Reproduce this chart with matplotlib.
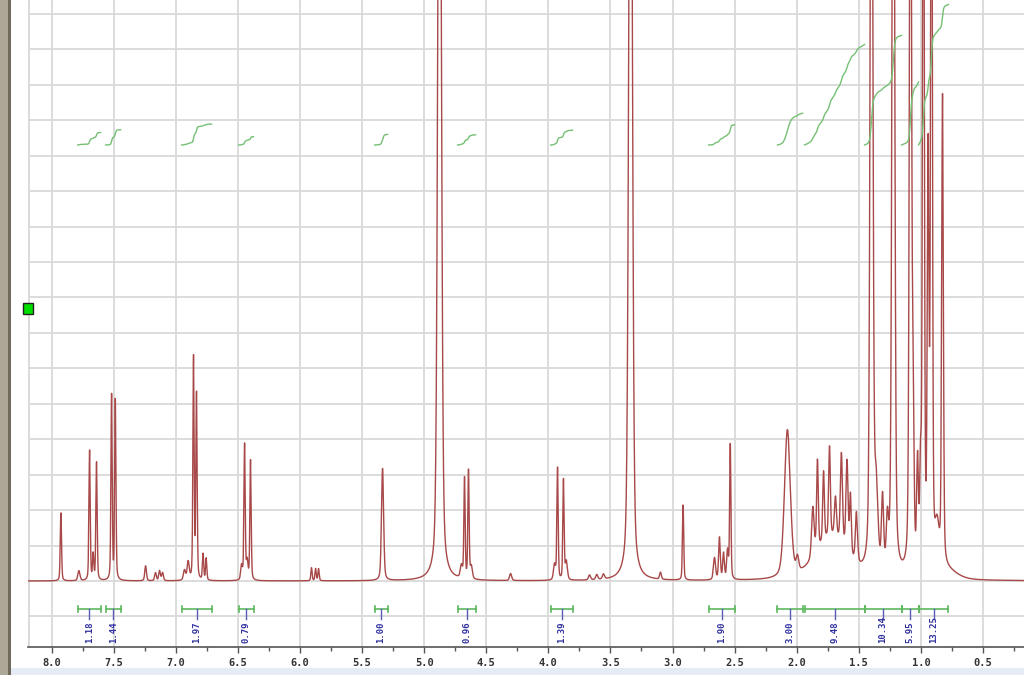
import numpy as np
import matplotlib.pyplot as plt
from matplotlib.patches import Rectangle

# peaks: shift (ppm), height (px above baseline), half width (ppm)
peak_ppm = [7.925, 7.78, 7.694, 7.665, 7.638, 7.517, 7.487, 7.243, 7.163, 7.13, 7.106,
            6.93, 6.90, 6.857, 6.833, 6.78, 6.755, 6.47, 6.446, 6.425, 6.398,
            5.907, 5.874, 5.85, 5.335, 4.876, 4.70, 4.675, 4.643, 4.62, 4.304,
            3.95, 3.926, 3.878, 3.855, 3.668, 3.61, 3.556, 3.338, 3.097, 2.915,
            2.662, 2.622, 2.589, 2.557, 2.535, 2.075, 1.994,
            1.87, 1.833, 1.784, 1.736, 1.688, 1.64, 1.595, 1.567, 1.519, 1.72,
            1.398, 1.36, 1.309, 1.27, 1.222, 1.084, 1.062, 1.027, 1.003,
            0.98, 0.942, 0.915, 0.87, 0.826, 0.80]
peak_height = [68, 10, 130, 25, 118, 185, 180, 15, 8, 10, 8,
               10, 18, 222, 185, 26, 22, 14, 136, 18, 120,
               13, 12, 12, 112, 1000, 12, 100, 108, 12, 7,
               15, 112, 100, 18, 5, 5, 5, 1000, 7, 75,
               22, 42, 26, 28, 135, 148, 14,
               50, 90, 70, 90, 40, 90, 90, 60, 50, 42,
               1000, 75, 70, 45, 1000, 900, 140, 100, 90,
               900, 400, 900, 40, 470, 9]
peak_hw = [0.006, 0.01, 0.006, 0.006, 0.006, 0.006, 0.006, 0.008, 0.008, 0.008, 0.008,
           0.01, 0.01, 0.006, 0.006, 0.006, 0.006, 0.008, 0.006, 0.008, 0.006,
           0.006, 0.006, 0.006, 0.01, 0.016, 0.01, 0.006, 0.006, 0.01, 0.01,
           0.01, 0.006, 0.006, 0.01, 0.01, 0.01, 0.01, 0.016, 0.008, 0.006,
           0.01, 0.008, 0.008, 0.008, 0.006, 0.028, 0.012,
           0.012, 0.008, 0.008, 0.008, 0.01, 0.01, 0.01, 0.008, 0.01, 0.15,
           0.012, 0.016, 0.01, 0.01, 0.012, 0.01, 0.008, 0.008, 0.008,
           0.008, 0.008, 0.008, 0.02, 0.008, 0.1]

# integration regions (ppm, left -> right) and printed values
int_from = [7.79, 7.565, 6.953, 6.494, 5.399, 4.731, 3.982, 2.710, 2.155, 1.937, 1.454, 1.156, 1.019]
int_to = [7.605, 7.444, 6.712, 6.374, 5.295, 4.586, 3.805, 2.501, 1.953, 1.454, 1.156, 1.019, 0.778]
int_label = ["1.18", "1.44", "1.97", "0.79", "1.00", "0.96", "1.39", "1.90",
             "3.00", "9.48", "10.34", "5.95", "13.25"]

major_ticks = [8.0, 7.5, 7.0, 6.5, 6.0, 5.5, 5.0, 4.5, 4.0, 3.5, 3.0, 2.5, 2.0, 1.5, 1.0, 0.5]

# spectrum as a sum of pseudo-voigt lines
x = np.linspace(0.17, 8.2, 20000)
spec = np.zeros_like(x)
for p, h, w in zip(peak_ppm, peak_height, peak_hw):
    d = (x - p) / w
    spec += h * (0.35 / (1 + d ** 2) + 0.65 * np.exp(-np.log(2) * d ** 2))

fig = plt.figure(figsize=(10.24, 6.75), dpi=100)
fig.patch.set_facecolor("white")

# window chrome
fig.patches.append(Rectangle((0, 0), 8 / 1024, 1, transform=fig.transFigure,
                             facecolor="#aca796", edgecolor="none"))
fig.patches.append(Rectangle((8 / 1024, 0), 3 / 1024, 1, transform=fig.transFigure,
                             facecolor="#6f6a5c", edgecolor="none"))
fig.patches.append(Rectangle((11 / 1024, 0), 1, 7 / 675, transform=fig.transFigure,
                             facecolor="#e5ecf6", edgecolor="none"))

ax = fig.add_axes([28 / 1024, 28 / 675, 1 - 28 / 1024, 647 / 675])
ax.set_xlim(8.19, 0.17)
ax.set_ylim(-66, 581)

# grid
for k in range(-1, 17):
    ax.axhline(k * 35.45, color="#d9d9d9", lw=1.3, zorder=0)
for t in major_ticks:
    ax.axvline(t, color="#d9d9d9", lw=1.3, zorder=0)
ax.axvline(8.19, color="#d9d9d9", lw=2, zorder=0)

ax.plot(x, spec, color="#a84848", lw=1.0, zorder=3)

# integrals
for a, b, lab in zip(int_from, int_to, int_label):
    m = (x <= a) & (x >= b)
    xs = x[m][::-1]
    cum = np.cumsum(spec[m][::-1])
    ax.plot(xs, 436 + cum / cum[-1] * float(lab) * 10.6, color="#74c074", lw=1.0, zorder=4)
    c = (a + b) / 2
    ax.plot([a, b], [-28, -28], color="#5cb85c", lw=1.2, zorder=4)
    ax.plot([a, a], [-25, -31], color="#5cb85c", lw=1.2, zorder=4)
    ax.plot([b, b], [-25, -31], color="#5cb85c", lw=1.2, zorder=4)
    ax.plot([c, c], [-28, -38], color="#5a5ab8", lw=1.0, zorder=4)
    ax.text(c, -62, lab, rotation=90, ha="center", va="bottom", fontsize=6.5,
            family="DejaVu Sans Mono", weight="bold", color="#3030a0", zorder=5)

for s in ["top", "left", "right"]:
    ax.spines[s].set_visible(False)
ax.spines["bottom"].set_color("#555555")
ax.spines["bottom"].set_linewidth(1.2)
ax.set_yticks([])
ax.set_xticks(major_ticks)
ax.set_xticklabels([f"{t:.1f}" for t in major_ticks], family="DejaVu Sans Mono",
                   weight="bold", fontsize=7.5, color="#333333")
ax.set_xticks(np.arange(0.25, 8.1, 0.5), minor=True)
ax.tick_params(axis="x", which="major", length=4, width=1, color="#555555", pad=4)
ax.tick_params(axis="x", which="minor", length=3, width=1, color="#555555")

# marker square at left edge
fig.add_artist(Rectangle((23 / 1024, (675 - 314) / 675), 10 / 1024, 11 / 675,
                         transform=fig.transFigure, facecolor="#00e000",
                         edgecolor="#222222", lw=1, zorder=10))

fig.savefig("out.png", dpi=100)
